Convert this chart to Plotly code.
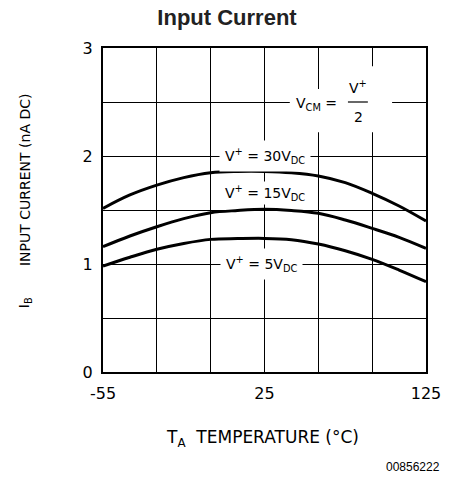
import plotly.graph_objects as go

# x positions in grid divisions (0 = -55 °C, 3 = 25 °C, 6 = 125 °C)
temp_pos = [0, 0.5, 1, 1.5, 2, 2.5, 3, 3.5, 4, 4.5, 5, 5.5, 6]
i_30v = [1.515, 1.639, 1.73, 1.80, 1.845, 1.857, 1.857, 1.845, 1.815, 1.753, 1.654, 1.537, 1.398]
i_15v = [1.16, 1.259, 1.345, 1.42, 1.475, 1.495, 1.506, 1.495, 1.469, 1.407, 1.33, 1.247, 1.145]
i_5v = [0.98, 1.062, 1.136, 1.19, 1.228, 1.235, 1.237, 1.225, 1.185, 1.123, 1.043, 0.944, 0.836]
x_tickvals = [0, 3, 6]
x_ticktext = ["-55", "25", "125"]
y_tickvals = [0, 1, 2, 3]
y_ticktext = ["0", "1", "2", "3"]

FONT = "DejaVu Sans"
fig = go.Figure()
for ys in (i_30v, i_15v, i_5v):
    fig.add_trace(go.Scatter(x=temp_pos, y=ys, mode="lines",
                             line=dict(color="black", width=3, shape="spline"),
                             showlegend=False, hoverinfo="skip"))

# white gap in the grid around the V_CM note
fig.add_shape(type="rect", xref="x", yref="y", x0=3.47, x1=5.37, y0=2.22, y1=2.62,
              fillcolor="white", line=dict(width=0), layer="above")
fig.add_shape(type="rect", xref="x", yref="y", x0=4.45, x1=5.37, y0=2.6, y1=2.83,
              fillcolor="white", line=dict(width=0), layer="above")
fig.add_shape(type="line", xref="x", yref="y", x0=4.55, x1=4.92, y0=2.5, y1=2.5,
              line=dict(color="black", width=1.2), layer="above")

ann_font = dict(family=FONT, size=14, color="black")
fig.add_annotation(x=3, y=2.0, text="V<sup>+</sup> = 30V<sub>DC</sub>", showarrow=False,
                   font=ann_font, bgcolor="white", borderpad=5)
fig.add_annotation(x=3, y=1.66, text="V<sup>+</sup> = 15V<sub>DC</sub>", showarrow=False,
                   font=ann_font, bgcolor="white", borderpad=1)
fig.add_annotation(x=2.95, y=1.0, text="V<sup>+</sup> = 5V<sub>DC</sub>", showarrow=False,
                   font=ann_font, bgcolor="white", borderpad=5)
fig.add_annotation(x=3.96, y=2.48, text="V<sub>CM</sub> =", showarrow=False,
                   font=ann_font)
fig.add_annotation(x=4.74, y=2.64, text="V<sup>+</sup>", showarrow=False, font=ann_font)
fig.add_annotation(x=4.74, y=2.36, text="2", showarrow=False, font=ann_font)

fig.add_annotation(xref="paper", yref="paper", x=0.495, y=-0.204,
                   xanchor="center", yanchor="middle",
                   text="T<sub>A</sub>  TEMPERATURE (°C)", showarrow=False,
                   font=dict(family=FONT, size=17, color="black"))
fig.add_annotation(xref="paper", yref="paper", x=-0.241, y=0.593, textangle=-90,
                   xanchor="center", yanchor="middle",
                   text="INPUT CURRENT (nA DC)", showarrow=False,
                   font=dict(family=FONT, size=14, color="black"))
fig.add_annotation(xref="paper", yref="paper", x=-0.241, y=0.213, textangle=-90,
                   xanchor="center", yanchor="middle",
                   text="I<sub>B</sub>", showarrow=False,
                   font=dict(family=FONT, size=14, color="black"))
fig.add_annotation(xref="paper", yref="paper", x=1.05, y=-0.293, xanchor="right",
                   yanchor="middle", text="00856222", showarrow=False,
                   font=dict(family="Liberation Sans", size=12, color="black"))

fig.update_layout(
    width=454, height=478,
    margin=dict(l=103, r=28, t=48, b=106),
    paper_bgcolor="white", plot_bgcolor="white",
    title=dict(text="<b>Input Current</b>", x=0.5, xanchor="center",
               y=1 - 17 / 478, yanchor="middle",
               font=dict(family="Liberation Sans", size=22, color="#222")),
    xaxis=dict(range=[0, 6], tickvals=x_tickvals, ticktext=x_ticktext, automargin=False,
               showgrid=True, gridcolor="black", gridwidth=1.3,
               minor=dict(dtick=1, showgrid=True, gridcolor="black", gridwidth=1.3),
               showline=True, linecolor="black", linewidth=2, mirror=True,
               ticks="", zeroline=False, ticklabelstandoff=6,
               tickfont=dict(family=FONT, size=16, color="black")),
    yaxis=dict(range=[0, 3], tickvals=y_tickvals, ticktext=y_ticktext, automargin=False,
               showgrid=True, gridcolor="black", gridwidth=1.3,
               minor=dict(dtick=0.5, showgrid=True, gridcolor="black", gridwidth=1.3),
               showline=True, linecolor="black", linewidth=2, mirror=True,
               ticks="", zeroline=False, ticklabelstandoff=5,
               tickfont=dict(family=FONT, size=16, color="black")),
)
fig.write_html("out.html", config={"displayModeBar": False},
               post_script="document.body.style.margin='0';document.body.style.overflow='hidden';")
